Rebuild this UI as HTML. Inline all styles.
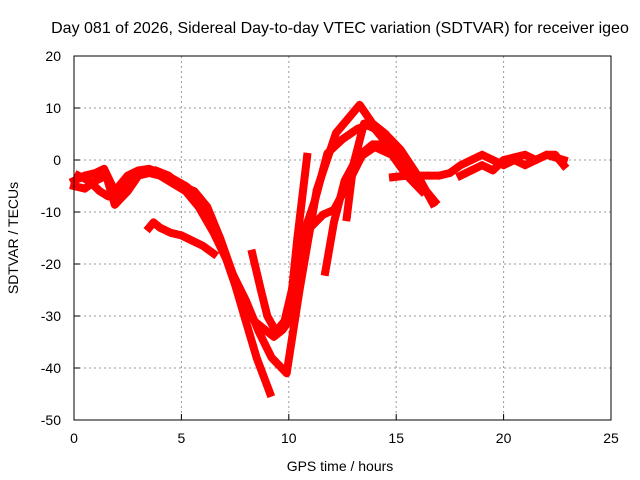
<!DOCTYPE html>
<html><head><meta charset="utf-8"><style>
body{margin:0;background:#fff}
svg{display:block;font-family:"Liberation Sans",sans-serif}
</style></head><body>
<svg id="chart" width="640" height="480" viewBox="0 0 640 480" xmlns="http://www.w3.org/2000/svg">
<text x="340" y="33" font-size="16" text-anchor="middle">Day 081 of 2026, Sidereal Day-to-day VTEC variation (SDTVAR) for receiver igeo</text>
<text x="340" y="471" font-size="14" text-anchor="middle">GPS time / hours</text>
<text x="0" y="0" font-size="14" text-anchor="middle" transform="translate(18,238) rotate(-90)">SDTVAR / TECUs</text>
<g id="grid"></g>
<g id="marks"></g>
<rect x="74" y="56" width="537" height="364" fill="none" stroke="#000" stroke-width="1"/>
<g id="ticks"></g>
</svg>
<script>
const xTicks=[0,5,10,15,20,25];
const yTicks=[20,10,0,-10,-20,-30,-40,-50];
const t1=[0,0.5,1,1.4,1.9,2.5,3,3.5,4,4.6,5.2,5.8,6.4,7,7.5,8,8.5,9.12];
const v1=[-4,-3,-2.5,-1.7,-6,-3,-2,-1.7,-2.5,-3.6,-5,-7,-11,-18,-24,-31,-38,-44.8];
const t2=[0,0.5,1,1.5,1.9,2.5,3,3.5,4,4.6,5.2,5.8,6.5,7.2,7.8,8.4,9,9.3,9.7,10,10.4,10.85];
const v2=[-5,-5.5,-4,-3,-8.6,-6,-3,-2.5,-3,-4.5,-6,-9,-14,-20,-26,-31,-33,-34,-32.7,-31,-15,0.6];
const t3=[0.2,0.7,1.2,1.6,2.1,2.6,3.2,3.8,4.4,5,5.6,6.2,6.8,7.4,8,8.6,9.2,9.9,10.5,11.3,12.2,13.3,13.9,14.5,15.2,16,16.7];
const v3=[-3,-4,-6,-7,-7,-4,-2,-2,-3,-5,-6,-9,-15,-22,-27,-33,-38,-41,-25,-5.8,5.2,10.6,7,5,2,-3,-8.3];
const t4=[3.5,3.7,4,4.5,5,5.5,6,6.5];
const v4=[-13,-12,-13,-14,-14.5,-15.5,-16.5,-18];
const t5=[8.3,8.7,9,9.4,9.8,10.2,10.7,11.2,11.8,12.5,13.2,13.9,14.5,15.2,16,16.8];
const v5=[-18,-25,-30,-33,-31,-24,-14,-8,1.3,4,6,7,5,1,-4,-8];
const t6=[11.7,12.1,12.6,13.2,13.9,14.5,15];
const v6=[-21.5,-12,-4,0.6,3,3,0];
const t7=[10.5,11,11.6,12.1,12.7,13.4,14,14.8,15.5,16.2];
const v7=[-17,-13,-10.5,-9.6,-5,0.8,2.5,1,-3,-6];
const t8=[12.7,13,13.5,14,14.6,15.2];
const v8=[-11,-1,7,6,3,0];
const t9=[14.85,15.5,16,16.5,17,17.5,18,18.5,19,19.5,20,20.5,21,21.5,22,22.8];
const v9=[-3.3,-3,-3,-3,-3,-2.5,-1,0,1,0,-1,0,-1,0,1,0];
const t10=[18,18.5,19,19.5,20,20.5,21,21.5,22,22.4,22.8];
const v10=[-3,-2,-1,-2,0,0.5,1,0,1,1,-1];
const series=[[t1,v1],[t2,v2],[t3,v3],[t4,v4],[t5,v5],[t6,v6],[t7,v7],[t8,v8],[t9,v9],[t10,v10]];
const X=t=>74+t*537/25, Y=v=>56+(20-v)*364/70;
const NS="http://www.w3.org/2000/svg";
const grid=document.getElementById('grid'),ticks=document.getElementById('ticks'),marks=document.getElementById('marks');
function mk(tag,attrs,parent){const e=document.createElementNS(NS,tag);for(const k in attrs)e.setAttribute(k,attrs[k]);parent.appendChild(e);return e;}
xTicks.forEach(t=>{
 if(t>0&&t<25){const g=mk('line',{x1:X(t),x2:X(t),y1:56,y2:420,stroke:'#999','stroke-dasharray':'2,3'},grid);
 
 }
 const tk=mk('line',{x1:X(t),x2:X(t),y1:420,y2:414,stroke:'#000'},ticks);
 
 
 const l=mk('text',{x:X(t),y:443,'font-size':14,'text-anchor':'middle'},ticks);l.textContent=t;
 
 
});
yTicks.forEach(v=>{
 if(v<20&&v>-50){const g=mk('line',{x1:74,x2:611,y1:Y(v),y2:Y(v),stroke:'#999','stroke-dasharray':'2,3'},grid);
 
 }
 const tk=mk('line',{x1:74,x2:80,y1:Y(v),y2:Y(v),stroke:'#000'},ticks);
 
 
 const l=mk('text',{x:61,y:Y(v)+5,'font-size':14,'text-anchor':'end'},ticks);l.textContent=v;
 
 
});
series.forEach((s,i)=>{
 const pts=s[0].map((t,j)=>X(t)+','+Y(s[1][j])).join(' ');
 const p=mk('polyline',{points:pts,fill:'none',stroke:'#f00','stroke-width':8,'stroke-linejoin':'round','stroke-linecap':'square'},marks);
 
 
 s[0].forEach((t,j)=>{
  const x=X(t),y=Y(s[1][j]);
  const m=mk('path',{d:`M${x-4},${y}h8M${x},${y-4}v8`,stroke:'#f00','stroke-width':1.5},marks);
  
  
 });
});
</script>
</body></html>
